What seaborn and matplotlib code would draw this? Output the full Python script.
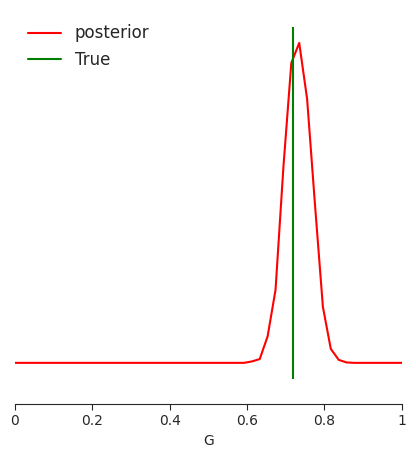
import numpy as np
import matplotlib
matplotlib.use("Agg")
import matplotlib.pyplot as plt
import seaborn as sns
from matplotlib.ticker import FuncFormatter

# grid of G values and posterior density
g_grid = np.linspace(0, 1, 50)
posterior = np.zeros(50)
posterior[29:43] = [0.0, 0.07, 0.19, 1.33, 3.65, 9.8, 15.0, 16.0,
                    13.2, 7.9, 2.8, 0.7, 0.15, 0.02]
true_g = 0.718

sns.set_style("white")
fig = plt.figure(figsize=(4.16, 4.57), dpi=100)
ax = fig.add_axes([0.036, 0.171, 0.930, 0.770])

sns.lineplot(x=g_grid, y=posterior, color="red", label="posterior", ax=ax)
ax.axvline(true_g, color="green", label="True")

ax.set_xlim(0, 1)
ax.set_xticks([0, 0.2, 0.4, 0.6, 0.8, 1.0])
ax.xaxis.set_major_formatter(FuncFormatter(lambda v, p: "%g" % v))
ax.tick_params(axis="x", bottom=True, length=4, labelsize=10)
ax.set_xlabel("G", fontsize=10)
ax.set_yticks([])
ax.set_ylabel("")
sns.despine(ax=ax, left=True, offset=18)

ax.legend(loc="upper left", frameon=False, fontsize=12,
          bbox_to_anchor=(-0.005, 1.05))

fig.savefig("out.png", dpi=100)
